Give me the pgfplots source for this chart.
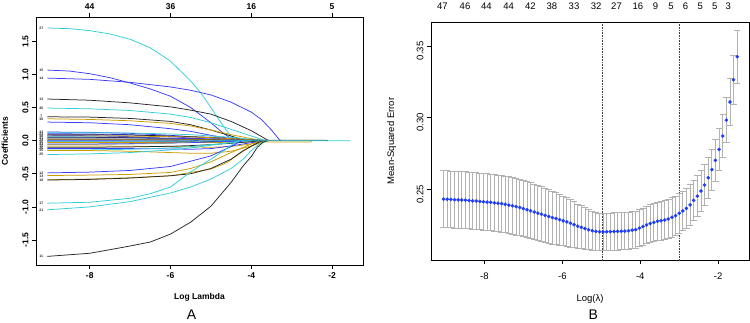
\documentclass[border=0pt]{standalone}
\usepackage{pgfplots}
\pgfplotsset{compat=1.18}
\usepackage{fontspec}
\setmainfont{Liberation Sans}
\definecolor{cblk}{rgb}{0.15,0.15,0.15}
\definecolor{cblu}{RGB}{60,60,255}
\definecolor{ccya}{RGB}{50,205,215}
\definecolor{cgol}{RGB}{205,155,0}
\definecolor{cgry}{RGB}{150,150,150}
\definecolor{ptblue}{RGB}{30,60,255}
\definecolor{ebgray}{RGB}{178,178,178}

\pgfplotstableread{
x y e
-1.513 0.3425 0.0186
-1.606 0.3264 0.0172
-1.699 0.3109 0.0162
-1.792 0.2983 0.0155
-1.885 0.2872 0.0150
-1.978 0.2779 0.0147
-2.071 0.2702 0.0145
-2.164 0.2637 0.0144
-2.257 0.2581 0.0143
-2.350 0.2530 0.0142
-2.443 0.2488 0.0141
-2.536 0.2453 0.0141
-2.629 0.2423 0.0140
-2.722 0.2391 0.0140
-2.815 0.2367 0.0140
-2.908 0.2349 0.0139
-3.001 0.2333 0.0139
-3.094 0.2316 0.0138
-3.187 0.2305 0.0137
-3.280 0.2293 0.0136
-3.373 0.2286 0.0135
-3.466 0.2281 0.0134
-3.559 0.2277 0.0133
-3.652 0.2270 0.0132
-3.745 0.2261 0.0131
-3.838 0.2252 0.0131
-3.931 0.2240 0.0130
-4.024 0.2229 0.0130
-4.117 0.2219 0.0130
-4.210 0.2215 0.0130
-4.303 0.2211 0.0130
-4.396 0.2209 0.0130
-4.489 0.2208 0.0130
-4.582 0.2207 0.0130
-4.675 0.2206 0.0130
-4.768 0.2205 0.0130
-4.861 0.2204 0.0130
-4.954 0.2203 0.0130
-5.047 0.2204 0.0131
-5.140 0.2207 0.0133
-5.233 0.2211 0.0136
-5.326 0.2218 0.0140
-5.419 0.2226 0.0145
-5.512 0.2235 0.0150
-5.605 0.2243 0.0155
-5.698 0.2253 0.0160
-5.791 0.2263 0.0165
-5.884 0.2273 0.0170
-5.977 0.2280 0.0174
-6.070 0.2288 0.0178
-6.163 0.2296 0.0181
-6.256 0.2303 0.0184
-6.349 0.2310 0.0187
-6.442 0.2318 0.0189
-6.535 0.2326 0.0191
-6.628 0.2334 0.0193
-6.721 0.2342 0.0194
-6.814 0.2350 0.0195
-6.907 0.2358 0.0196
-7.000 0.2366 0.0197
-7.093 0.2373 0.0197
-7.186 0.2379 0.0197
-7.279 0.2385 0.0197
-7.372 0.2390 0.0197
-7.465 0.2395 0.0197
-7.558 0.2400 0.0197
-7.651 0.2403 0.0197
-7.744 0.2406 0.0197
-7.837 0.2409 0.0197
-7.930 0.2411 0.0197
-8.023 0.2414 0.0198
-8.116 0.2416 0.0198
-8.209 0.2418 0.0198
-8.302 0.2420 0.0198
-8.395 0.2422 0.0198
-8.488 0.2424 0.0198
-8.581 0.2425 0.0198
-8.674 0.2427 0.0198
-8.767 0.2428 0.0198
-8.860 0.2430 0.0198
-8.953 0.2431 0.0198
-9.046 0.2432 0.0198
}\cvdata

\begin{document}
\begin{tikzpicture}
\useasboundingbox (0,0) rectangle (750pt,322pt);
\pgfplotsset{
  rbase/.style={
    scale only axis, anchor=south west,
    tick align=outside, major tick length=4pt,
    tick style={black, line width=0.6pt},
    axis line style={line width=0.6pt, black},
    xtick pos=bottom, ytick pos=left,
    yticklabel style={rotate=90, anchor=south},
    xlabel style={anchor=center},
    ylabel style={anchor=center},
  },
  cp/.style={line width=0.75pt, line join=round, no markers},
}
% ---------------- Panel A ----------------
\begin{axis}[rbase,
  at={(36pt,57pt)}, width=327pt, height=248pt,
  xmin=-9.33, xmax=-1.235, ymin=-1.877, ymax=1.866,
  xtick={-8,-6,-4,-2}, xticklabels={-8,-6,-4,-2},
  ytick={-1.5,-1,-0.5,0,0.5,1,1.5},
  yticklabels={-1.5,-1.0,-0.5,0.0,0.5,1.0,1.5},
  ticklabel style={font=\fontsize{8.5}{10}\selectfont\bfseries},
  xlabel={Log Lambda}, ylabel={Coefficients},
  label style={font=\fontsize{8.5}{10}\selectfont\bfseries},
  xlabel style={at={(axis description cs:0.5,-0.129)}},
  ylabel style={at={(axis description cs:-0.095,0.5)}},
]
% big positive paths
\addplot[cp, ccya] coordinates {(-9.05,1.70)(-8.5,1.69)(-8,1.66)(-7.5,1.61)(-7,1.53)(-6.5,1.40)(-6,1.20)(-5.5,0.90)(-5.25,0.72)(-5,0.50)(-4.75,0.27)(-4.5,0.06)(-4.4,0)(-3.6,0)};
\addplot[cp, cblu] coordinates {(-9.05,1.065)(-8.5,1.05)(-8,1.01)(-7.5,0.95)(-7,0.87)(-6.5,0.78)(-6,0.67)(-5.5,0.50)(-5,0.27)(-4.75,0.14)(-4.5,0.03)(-4.4,0)(-3.6,0)};
\addplot[cp, cblu] coordinates {(-9.05,0.944)(-8,0.925)(-7,0.88)(-6,0.81)(-5.5,0.76)(-5,0.69)(-4.5,0.58)(-4,0.43)(-3.75,0.32)(-3.5,0.16)(-3.3,0.01)(-3.25,0)};
\addplot[cp, cblk] coordinates {(-9.05,0.628)(-8,0.61)(-7,0.57)(-6,0.51)(-5.5,0.46)(-5,0.40)(-4.5,0.29)(-4,0.15)(-3.8,0.08)(-3.6,0.01)(-3.55,0)};
\addplot[cp, ccya] coordinates {(-9.05,0.492)(-8,0.48)(-7,0.455)(-6,0.40)(-5.5,0.35)(-5,0.27)(-4.5,0.17)(-4,0.07)(-3.7,0.01)(-3.6,0)};
\addplot[cp, cblk] coordinates {(-9.05,0.36)(-8,0.355)(-7,0.335)(-6,0.29)(-5.5,0.24)(-5,0.16)(-4.5,0.07)(-4.2,0.01)(-4.1,0)};
\addplot[cp, cgol] coordinates {(-9.05,0.33)(-8,0.32)(-7,0.30)(-6,0.26)(-5.5,0.22)(-5,0.16)(-4.5,0.09)(-4,0.03)(-3.7,0)};
\addplot[cp, cblu] coordinates {(-9.05,0.28)(-8,0.27)(-7,0.24)(-6,0.18)(-5.5,0.14)(-5,0.08)(-4.5,0.03)(-4.2,0)};
% cluster near zero
\addplot[cp, cblu] coordinates {(-9.05,0.13)(-8,0.125)(-7,0.11)(-6,0.08)(-5.5,0.06)(-5,0.04)(-4.5,0.02)(-4,0.005)(-3.7,0)};
\addplot[cp, ccya] coordinates {(-9.05,0.12)(-8,0.12)(-7,0.115)(-6,0.10)(-5.5,0.09)(-5,0.07)(-4.5,0.05)(-4,0.02)(-3.6,0)};
\addplot[cp, cblu] coordinates {(-9.05,0.105)(-8,0.10)(-7,0.09)(-6,0.06)(-5.5,0.04)(-5,0.02)(-4.5,0.005)(-4.2,0)};
\addplot[cp, cblk] coordinates {(-9.05,0.09)(-8,0.088)(-7,0.085)(-6,0.07)(-5.5,0.06)(-5,0.05)(-4.5,0.03)(-4,0.01)(-3.6,0)};
\addplot[cp, cblu] coordinates {(-9.05,0.08)(-8,0.075)(-7,0.06)(-6,0.03)(-5.5,0.01)(-5.3,0)};
\addplot[cp, cgol] coordinates {(-9.05,0.07)(-8,0.07)(-7,0.068)(-6,0.06)(-5.5,0.055)(-5,0.045)(-4.5,0.03)(-4,0.01)(-3.6,0)};
\addplot[cp, ccya] coordinates {(-9.05,0.06)(-8,0.055)(-7,0.045)(-6,0.03)(-5.5,0.02)(-5,0.01)(-4.8,0)};
\addplot[cp, cblk] coordinates {(-9.05,0.05)(-8,0.05)(-7,0.045)(-6,0.035)(-5.5,0.03)(-5,0.02)(-4.5,0.01)(-4.2,0)};
\addplot[cp, cblu] coordinates {(-9.05,0.04)(-8,0.04)(-7,0.04)(-6,0.035)(-5.5,0.03)(-5,0.025)(-4.5,0.015)(-4,0.005)(-3.6,0)};
\addplot[cp, cgry] coordinates {(-9.05,0.03)(-8,0.028)(-7,0.02)(-6,0.01)(-5.8,0)};
\addplot[cp, cgol] coordinates {(-9.05,0.02)(-8,0.02)(-7,0.02)(-6,0.02)(-5.5,0.018)(-5,0.015)(-4.5,0.01)(-4,0.004)(-3.6,0)};
\addplot[cp, cblk] coordinates {(-9.05,0.01)(-8,0.01)(-7,0.01)(-6,0.01)(-5,0.008)(-4,0.006)(-3.6,0.005)(-2.16,0.005)(-2.1,0)};
\addplot[cp, cblu] coordinates {(-9.05,0.0)(-8,-0.002)(-7,-0.004)(-6,-0.005)(-5,-0.005)(-4,-0.003)(-3.6,0)};
\addplot[cp, cblk] coordinates {(-9.05,-0.02)(-8,-0.02)(-7,-0.02)(-6,-0.018)(-5.5,-0.015)(-5,-0.012)(-4.5,-0.008)(-4,-0.003)(-3.6,0)};
\addplot[cp, cgol] coordinates {(-9.05,-0.03)(-8,-0.03)(-7,-0.03)(-6,-0.03)(-5.5,-0.03)(-5,-0.028)(-4.5,-0.025)(-4,-0.022)(-3.6,-0.02)(-2.53,-0.02)(-2.5,0)};
\addplot[cp, cblu] coordinates {(-9.05,-0.05)(-8,-0.05)(-7,-0.045)(-6,-0.035)(-5.5,-0.03)(-5,-0.02)(-4.5,-0.01)(-4.2,0)};
\addplot[cp, cgry] coordinates {(-9.05,-0.06)(-8,-0.058)(-7,-0.05)(-6,-0.04)(-5.5,-0.02)(-5,0)};
\addplot[cp, cgol] coordinates {(-9.05,-0.08)(-8,-0.08)(-7,-0.085)(-6,-0.09)(-5.5,-0.095)(-5,-0.10)(-4.5,-0.09)(-4,-0.05)(-3.6,0)};
\addplot[cp, cblk] coordinates {(-9.05,-0.10)(-8,-0.10)(-7,-0.095)(-6,-0.085)(-5.5,-0.075)(-5,-0.06)(-4.5,-0.04)(-4,-0.015)(-3.6,0)};
\addplot[cp, cblu] coordinates {(-9.05,-0.12)(-8,-0.12)(-7,-0.12)(-6,-0.125)(-5.5,-0.13)(-5,-0.12)(-4.5,-0.08)(-4,-0.03)(-3.6,0)};
\addplot[cp, ccya] coordinates {(-9.05,-0.14)(-8,-0.14)(-7,-0.13)(-6,-0.11)(-5.5,-0.09)(-5,-0.06)(-4.5,-0.03)(-4,0)};
\addplot[cp, cgol] coordinates {(-9.05,-0.15)(-8,-0.15)(-7,-0.16)(-6,-0.18)(-5.5,-0.19)(-5,-0.19)(-4.5,-0.16)(-4,-0.08)(-3.6,0)};
\addplot[cp, ccya] coordinates {(-9.05,-0.21)(-8,-0.20)(-7,-0.18)(-6,-0.14)(-5.5,-0.11)(-5,-0.07)(-4.5,-0.03)(-4.2,0)};
% big negative paths
\addplot[cp, cblu] coordinates {(-9.05,-0.487)(-8,-0.475)(-7,-0.45)(-6,-0.39)(-5.5,-0.31)(-5,-0.23)(-4.5,-0.09)(-4.3,-0.02)(-4.2,0)};
\addplot[cp, cgol] coordinates {(-9.05,-0.527)(-8,-0.52)(-7,-0.51)(-6,-0.48)(-5.5,-0.42)(-5,-0.32)(-4.5,-0.18)(-4,-0.05)(-3.7,0)};
\addplot[cp, cgol] coordinates {(-9.05,-0.59)(-8,-0.58)(-7,-0.56)(-6,-0.53)(-5,-0.43)(-4.6,-0.33)(-4.3,-0.2)(-4,-0.08)(-3.7,0)};
\addplot[cp, cblk] coordinates {(-9.05,-0.595)(-8,-0.585)(-7,-0.565)(-6,-0.53)(-5.5,-0.5)(-5,-0.42)(-4.5,-0.28)(-4.2,-0.15)(-3.8,-0.02)(-3.7,0)};
\addplot[cp, ccya] coordinates {(-9.05,-0.944)(-8,-0.93)(-7,-0.87)(-6.5,-0.80)(-6,-0.70)(-5.5,-0.47)(-5,-0.28)(-4.7,-0.16)(-4.5,-0.07)(-4.3,0)};
\addplot[cp, ccya] coordinates {(-9.05,-1.044)(-8,-1.0)(-7,-0.92)(-6,-0.79)(-5.5,-0.70)(-5,-0.58)(-4.5,-0.42)(-4.2,-0.28)(-4,-0.15)(-3.8,-0.05)(-3.6,0)};
\addplot[cp, cblk] coordinates {(-9.05,-1.747)(-8,-1.70)(-7.5,-1.646)(-7,-1.59)(-6.5,-1.53)(-6,-1.41)(-5.5,-1.23)(-5,-0.99)(-4.5,-0.63)(-4.2,-0.38)(-4,-0.24)(-3.85,-0.10)(-3.7,-0.02)(-3.6,0)};
% zero line on top
\addplot[cp, ccya] coordinates {(-9.05,-0.01)(-8,-0.01)(-7,-0.01)(-6,-0.008)(-5,-0.004)(-4.5,0)(-1.55,0)};
% variable labels
\begin{scope}[every node/.style={font=\fontsize{3.5}{4}\selectfont\bfseries, inner sep=0pt, text=cblk}]
\node at (axis cs:-9.2,1.70) {27};
\node at (axis cs:-9.2,1.065) {15};
\node at (axis cs:-9.2,0.944) {14};
\node at (axis cs:-9.2,0.628) {13};
\node at (axis cs:-9.2,0.492) {45};
\node at (axis cs:-9.2,0.37) {7};
\node at (axis cs:-9.2,0.32) {30};
\node at (axis cs:-9.2,0.13) {33};
\node at (axis cs:-9.2,0.10) {23};
\node at (axis cs:-9.2,0.07) {38};
\node at (axis cs:-9.2,0.04) {41};
\node at (axis cs:-9.2,0.01) {29};
\node at (axis cs:-9.2,-0.02) {36};
\node at (axis cs:-9.2,-0.05) {44};
\node at (axis cs:-9.2,-0.08) {10};
\node at (axis cs:-9.2,-0.11) {26};
\node at (axis cs:-9.2,-0.14) {35};
\node at (axis cs:-9.2,-0.21) {25};
\node at (axis cs:-9.2,-0.487) {12};
\node at (axis cs:-9.2,-0.535) {13};
\node at (axis cs:-9.2,-0.595) {18};
\node at (axis cs:-9.2,-0.944) {17};
\node at (axis cs:-9.2,-1.044) {21};
\node at (axis cs:-9.2,-1.747) {11};
\end{scope}
\end{axis}
% top axis A
\begin{axis}[scale only axis, anchor=south west,
  at={(36pt,57pt)}, width=327pt, height=248pt,
  xmin=-9.33, xmax=-1.235, ymin=-1.877, ymax=1.866,
  axis x line*=top, axis y line=none,
  tick align=outside, major tick length=4pt,
  tick style={black, line width=0.6pt},
  axis line style={line width=0.6pt, black},
  xtick={-8,-6,-4,-2}, xticklabels={44,36,16,5},
  ticklabel style={font=\fontsize{8.5}{10}\selectfont\bfseries},
]
\end{axis}
\node[font=\fontsize{14}{16}\selectfont, inner sep=0pt] at (191.5pt,7pt) {A};

% ---------------- Panel B ----------------
\begin{axis}[rbase,
  at={(431pt,62pt)}, width=318pt, height=238pt,
  xmin=-9.37, xmax=-1.21, ymin=0.2007, ymax=0.3667,
  xtick={-8,-6,-4,-2}, xticklabels={-8,-6,-4,-2},
  ytick={0.25,0.30,0.35}, yticklabels={0.25,0.30,0.35},
  ticklabel style={font=\fontsize{9.5}{11}\selectfont},
  xticklabel shift=5pt,
  yticklabel style={xshift=-5pt},
  xlabel={Log(λ)}, ylabel={Mean-Squared Error},
  label style={font=\fontsize{9.5}{11}\selectfont},
  xlabel style={at={(axis description cs:0.5,-0.164)}},
  ylabel style={at={(axis description cs:-0.1236,0.5)}},
]
\addplot[densely dotted, line width=0.6pt, black!75] coordinates {(-4.97,0.19)(-4.97,0.38)};
\addplot[densely dotted, line width=0.6pt, black!75] coordinates {(-3.0,0.19)(-3.0,0.38)};
\addplot[draw=none, mark=none,
  error bars/.cd, y dir=both, y explicit, error mark=|,
  error bar style={color=ebgray, line width=0.8pt},
  error mark options={color=ebgray, line width=0.8pt, mark size=3.2pt}]
  table[x=x, y=y, y error=e] {\cvdata};
\addplot[only marks, mark=*, mark size=1.6pt, color=ptblue, mark options={draw=ptblue, fill=ptblue}]
  table[x=x, y=y] {\cvdata};
\end{axis}
% top labels B
\begin{axis}[scale only axis, anchor=south west,
  at={(431pt,62pt)}, width=318pt, height=238pt,
  xmin=-9.37, xmax=-1.21, ymin=0.2007, ymax=0.3667,
  axis x line*=top, axis y line=none, axis line style={draw=none},
  major tick length=0pt, xticklabel shift=9pt,
  xtick={-9.077,-8.497,-7.949,-7.377,-6.82,-6.27,-5.70,-5.13,-4.61,-4.06,-3.61,-3.21,-2.84,-2.46,-2.09,-1.74},
  xticklabels={47,46,44,44,42,38,33,32,27,16,9,5,6,5,5,3},
  ticklabel style={font=\fontsize{9.5}{11}\selectfont},
]
\end{axis}
\node[font=\fontsize{14}{16}\selectfont, inner sep=0pt] at (593.3pt,7pt) {B};
\end{tikzpicture}
\end{document}
